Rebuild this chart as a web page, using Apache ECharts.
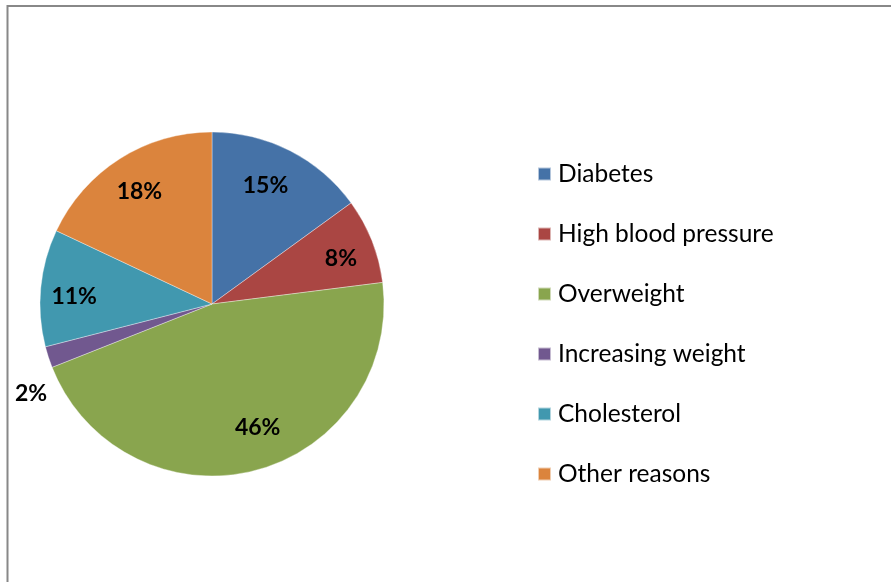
<!DOCTYPE html>
<html>
<head>
<meta charset="utf-8">
<script src="https://cdn.jsdelivr.net/npm/echarts@6/dist/echarts.min.js"></script>
<style>
  html, body { margin: 0; padding: 0; background: #fff; }
  #chart { width: 891px; height: 582px; }
</style>
</head>
<body>
<div id="chart"></div>
<script>
// Reasons share (percent)
const categories = ['Diabetes', 'High blood pressure', 'Overweight', 'Increasing weight', 'Cholesterol', 'Other reasons'];
const shares = [15, 8, 46, 2, 11, 18];
const colors = ['#4572A7', '#AA4643', '#89A54E', '#71588F', '#4198AF', '#DB843D'];
// slices whose label sits outside the pie
const outsideLabels = ['Increasing weight'];

const FONT = 'Lato, "Open Sans", sans-serif';
const CX = 212, CY = 304, R = 172;

// small nudges applied to individual percentage labels (px)
const labelNudge = {
  'Diabetes': [-8, 2],
  'High blood pressure': [3, 4],
  'Overweight': [12, -8],
  'Increasing weight': [19, 31],
  'Cholesterol': [-3, 5],
  'Other reasons': [0, 2]
};

const pieData = categories.map((name, i) => ({
  name,
  value: shares[i],
  itemStyle: { color: colors[i] }
}));

// transparent ring used only to place the percentage labels part-way out
const labelData = categories.map((name, i) => {
  const outside = outsideLabels.includes(name);
  return {
    name,
    value: shares[i],
    label: {
      position: outside ? 'outside' : 'inside',
      offset: labelNudge[name]
    },
    labelLine: { show: false, length: 16, length2: 0 }
  };
});

const chart = echarts.init(document.getElementById('chart'), null, { renderer: 'canvas' });
chart.setOption({
  animation: false,
  color: colors,
  legend: {
    orient: 'vertical',
    left: 537,
    top: 160,
    padding: 0,
    itemWidth: 13,
    itemHeight: 13,
    itemGap: 32,
    icon: 'rect',
    selectedMode: false,
    data: categories,
    textStyle: { fontFamily: FONT, fontSize: 24.5, color: '#000', lineHeight: 28, padding: [0, 0, 0, 2] }
  },
  graphic: [
    { type: 'line', shape: { x1: 7, y1: 6, x2: 891, y2: 6 }, style: { stroke: '#888', lineWidth: 2 }, silent: true },
    { type: 'line', shape: { x1: 7.5, y1: 5, x2: 7.5, y2: 582 }, style: { stroke: '#888', lineWidth: 2 }, silent: true }
  ],
  series: [
    {
      type: 'pie',
      center: [CX, CY],
      radius: [0, R],
      startAngle: 90,
      clockwise: true,
      avoidLabelOverlap: false,
      label: { show: false },
      labelLine: { show: false },
      itemStyle: { borderColor: 'rgba(255,255,255,0.6)', borderWidth: 0.6 },
      emphasis: { disabled: true },
      data: pieData
    },
    {
      type: 'pie',
      center: [CX, CY],
      radius: [R * 0.54, R],
      startAngle: 90,
      clockwise: true,
      silent: true,
      avoidLabelOverlap: false,
      itemStyle: { color: 'rgba(0,0,0,0)' },
      label: {
        show: true,
        formatter: p => p.value + '%',
        fontFamily: FONT,
        fontSize: 23,
        fontWeight: 'bold',
        color: '#000'
      },
      emphasis: { disabled: true },
      legendHoverLink: false,
      data: labelData
    }
  ]
});
</script>
</body>
</html>
